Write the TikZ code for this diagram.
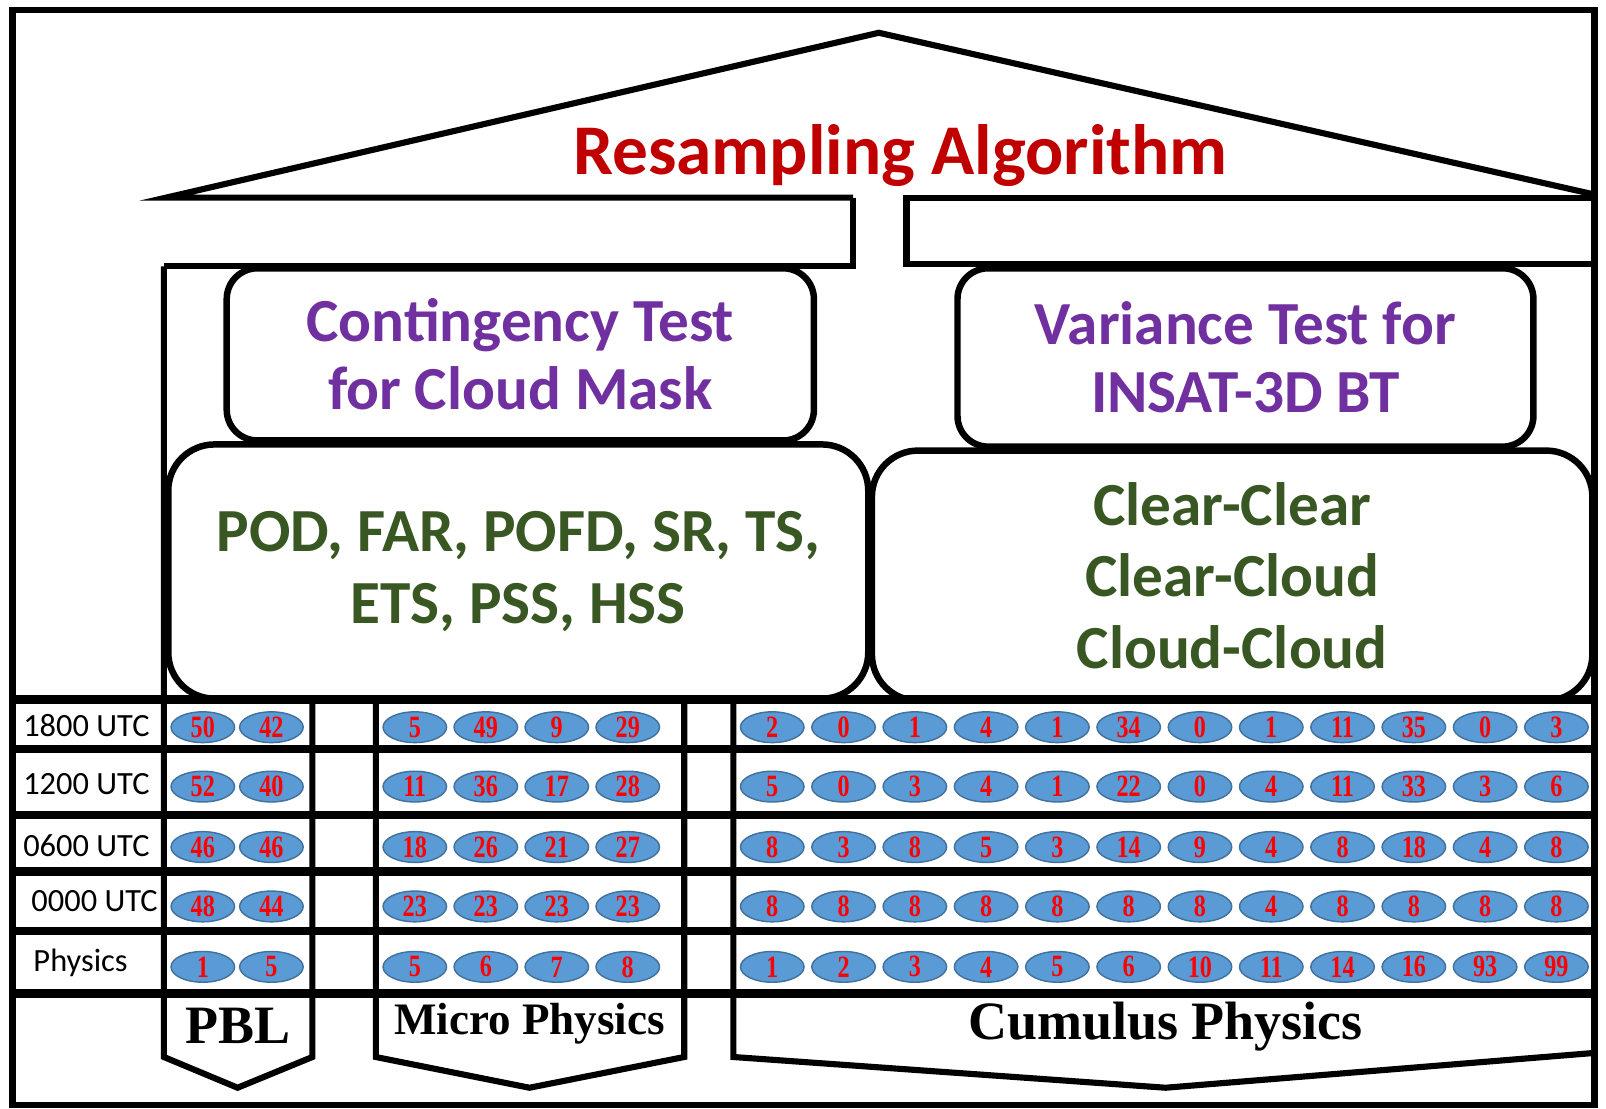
\documentclass[tikz,border=0pt]{standalone}
\usepackage{fontspec}
\setmainfont{Carlito}
\newfontfamily\numfont[FakeStretch=0.78]{Liberation Serif}
\newfontfamily\grpfont{Liberation Serif}
\usetikzlibrary{shapes.geometric}
\definecolor{titlered}{RGB}{192,0,0}
\definecolor{testpurple}{RGB}{112,48,160}
\definecolor{scoregreen}{RGB}{56,87,35}
\definecolor{dotblue}{RGB}{91,155,213}
\definecolor{dotedge}{RGB}{65,113,156}
\begin{document}
\begin{tikzpicture}[x=0.01cm, y=-0.01cm,
  wall/.style={line width=1.7pt, line join=miter},
  rowline/.style={line width=2.3pt},
  testbox/.style={draw, line width=1.8pt, fill=white, rounded corners=0.3cm, text=testpurple, align=center, font=\bfseries\fontsize{17}{18.8}\selectfont},
  scorebox/.style={draw, line width=1.8pt, fill=white, rounded corners=0.45cm, text=scoregreen, align=center, font=\bfseries\fontsize{17}{19.9}\selectfont},
  dot/.style={ellipse, draw=dotedge, line width=0.4pt, fill=dotblue, minimum width=0.62cm, minimum height=0.30cm, inner sep=0pt, text=red, font=\numfont\bfseries\fontsize{8.6}{8.6}\selectfont},
  utc/.style={anchor=west, inner sep=0pt, font=\fontsize{9}{10}\selectfont},
  group/.style={font=\grpfont\bfseries\fontsize{15}{15}\selectfont}]
\useasboundingbox (0,0) rectangle (1568,1082);
\draw[line width=1.8pt] (12,10) rectangle (1557,1079);

% roof and beams
\draw[wall] (833,193)--(162,193)--(858,32)--(1557,190);
\draw[wall] (833,193)--(833,260)--(160,260);
\draw[wall] (1557,193)--(885,193)--(885,258)--(1557,258);

% walls and column arrows
\draw[wall] (160,260)--(160,1032)--(232,1062)--(305,1032)--(305,683);
\draw[wall] (367,683)--(367,1032)--(517,1062)--(668,1032)--(668,683);
\draw[wall] (716,683)--(716,1032)--(1138,1062)--(1557,1028);

\node[testbox, minimum width=5.73cm, minimum height=1.68cm] (cont) at (508,346) {Contingency Test\\for Cloud Mask};
\node[testbox, minimum width=5.62cm, minimum height=1.74cm] (var) at (1216,349) {Variance Test for\\INSAT-3D BT};
\node[scorebox, minimum width=6.83cm, minimum height=2.48cm] (scores) at (506,558) {POD, FAR, POFD, SR, TS,\\ETS, PSS, HSS};
\node[scorebox, minimum width=7.03cm, minimum height=2.44cm] (classes) at (1203,562) {Clear-Clear\\Clear-Cloud\\Cloud-Cloud};

\node[anchor=base, text=titlered, font=\bfseries\fontsize{19.8}{19.8}\selectfont] (title) at (879,170) {Resampling Algorithm};

% table rows
\foreach \y in {683,731,796,851,909,970}
  \draw[rowline] (12,\y)--(1557,\y);

\node[utc] (t1800) at (22,708) {1800 UTC};
\node[utc] (t1200) at (22,766) {1200 UTC};
\node[utc] (t0600) at (22,826) {0600 UTC};
\node[utc] (t0000) at (30,880) {0000 UTC};
\node[utc] (phys) at (32,940) {Physics};

% PBL
\foreach \y/\vals [count=\r] in {710/{50,42},768/{52,40},827/{46,46},885/{48,44},944/{1,5}}
  \foreach \v [count=\c] in \vals
    \node[dot] (pbl-\r-\c) at ({198+67*(\c-1)},\y) {\v};
% micro physics
\foreach \y/\vals [count=\r] in {710/{5,49,9,29},768/{11,36,17,28},827/{18,26,21,27},885/{23,23,23,23},944/{5,6,7,8}}
  \foreach \v [count=\c] in \vals
    \node[dot] (mp-\r-\c) at ({405+69.3*(\c-1)},\y) {\v};
% cumulus
\foreach \y/\vals [count=\r] in {710/{2,0,1,4,1,34,0,1,11,35,0,3},768/{5,0,3,4,1,22,0,4,11,33,3,6},827/{8,3,8,5,3,14,9,4,8,18,4,8},885/{8,8,8,8,8,8,8,4,8,8,8,8},944/{1,2,3,4,5,6,10,11,14,16,93,99}}
  \foreach \v [count=\c] in \vals
    \node[dot] (cu-\r-\c) at ({754+69.6*(\c-1)},\y) {\v};

\node[group] (pbl) at (232,1002) {PBL};
\node[group, font=\grpfont\bfseries\fontsize{12.5}{12.5}\selectfont] (mp) at (517,1000) {Micro Physics};
\node[group] (cu) at (1138,1002) {Cumulus Physics};
\end{tikzpicture}
\end{document}
